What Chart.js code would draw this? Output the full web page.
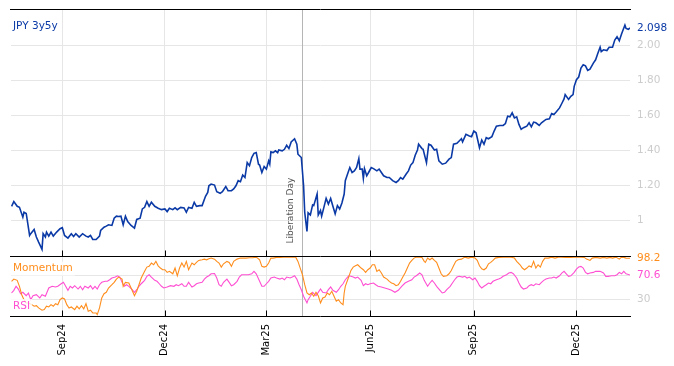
<!DOCTYPE html>
<html>
<head>
<meta charset="utf-8">
<script src="https://cdn.jsdelivr.net/npm/chart.js@4.4.1/dist/chart.umd.min.js"></script>
<style>
  html, body { margin: 0; padding: 0; background: #fff; }
  canvas { display: block; }
</style>
</head>
<body>
<canvas id="chart" width="674" height="366"></canvas>
<script>
// x values are days counted from 1 Sep 2024
const rateDays = [
  -45, -43, -40, -38, -35, -34, -32, -29, -28, -25,
  -23, -21, -18, -17, -15, -14, -12, -10, -8, -5,
  -2, 0, 2, 5, 8, 10, 12, 15, 18, 21,
  23, 25, 27, 30, 33, 34, 37, 39, 41, 44,
  46, 48, 50, 52, 54, 56, 58, 61, 64, 66,
  69, 71, 73, 75, 77, 79, 82, 85, 88, 91,
  93, 95, 98, 100, 102, 105, 108, 110, 112, 115,
  117, 119, 122, 124, 127, 129, 130, 132, 135, 137,
  140, 142, 145, 147, 150, 152, 154, 156, 158, 160,
  162, 164, 166, 168, 170, 172, 174, 175, 177, 179,
  181, 183, 184, 185, 187, 189, 191, 192, 195, 197,
  199, 201, 203, 206, 208, 209, 212, 214, 215, 217,
  218, 220, 222, 223, 226, 227, 229, 230, 232, 234,
  236, 238, 240, 242, 244, 246, 248, 250, 251, 253,
  255, 257, 259, 261, 263, 264, 266, 267, 268, 270,
  272, 274, 276, 279, 281, 283, 285, 288, 290, 293,
  296, 298, 300, 302, 305, 307, 309, 311, 313, 315,
  316, 319, 320, 323, 325, 327, 330, 332, 334, 337,
  340, 343, 345, 347, 350, 352, 354, 355, 358, 361,
  363, 365, 367, 370, 372, 374, 376, 378, 381, 383,
  385, 388, 391, 393, 395, 397, 399, 401, 403, 405,
  407, 409, 412, 414, 416, 418, 420, 423, 425, 427,
  429, 432, 434, 436, 438, 441, 443, 445, 446, 449,
  451, 453, 454, 456, 458, 460, 462, 464, 466, 468,
  471, 473, 475, 477, 478, 480, 483, 485, 488, 490,
  492, 494, 496, 499, 500, 502, 503.5
];
const rateValues = [
  1.081, 1.108, 1.081, 1.075, 1.019, 1.047, 1.040, 0.915, 0.925, 0.949,
  0.906, 0.877, 0.836, 0.925, 0.906, 0.934, 0.911, 0.934, 0.911, 0.934,
  0.953, 0.959, 0.915, 0.900, 0.925, 0.909, 0.925, 0.906, 0.925, 0.911,
  0.906, 0.915, 0.892, 0.892, 0.911, 0.943, 0.962, 0.968, 0.976, 0.972,
  1.013, 1.025, 1.023, 1.025, 0.976, 1.025, 0.994, 0.972, 0.957, 1.006,
  1.013, 1.066, 1.075, 1.108, 1.081, 1.104, 1.081, 1.070, 1.062, 1.066,
  1.051, 1.070, 1.062, 1.072, 1.062, 1.075, 1.072, 1.047, 1.075, 1.070,
  1.104, 1.081, 1.085, 1.085, 1.138, 1.160, 1.198, 1.208, 1.202, 1.164,
  1.155, 1.164, 1.194, 1.170, 1.170, 1.180, 1.198, 1.227, 1.221, 1.259,
  1.245, 1.330, 1.312, 1.359, 1.383, 1.387, 1.321, 1.316, 1.274, 1.308,
  1.293, 1.340, 1.321, 1.391, 1.387, 1.397, 1.387, 1.402, 1.397, 1.406,
  1.429, 1.410, 1.448, 1.466, 1.435, 1.378, 1.359, 1.198, 1.047, 0.938,
  1.044, 1.032, 1.089, 1.085, 1.151, 1.032, 1.057, 1.025, 1.075, 1.126,
  1.094, 1.126, 1.081, 1.038, 1.085, 1.066, 1.100, 1.151, 1.227, 1.265,
  1.302, 1.274, 1.283, 1.302, 1.353, 1.293, 1.293, 1.240, 1.296, 1.255,
  1.278, 1.302, 1.296, 1.283, 1.293, 1.274, 1.255, 1.245, 1.245, 1.227,
  1.217, 1.227, 1.245, 1.236, 1.265, 1.283, 1.316, 1.330, 1.372, 1.402,
  1.435, 1.410, 1.406, 1.330, 1.435, 1.429, 1.402, 1.406, 1.340, 1.321,
  1.327, 1.350, 1.359, 1.435, 1.440, 1.453, 1.466, 1.448, 1.491, 1.482,
  1.478, 1.510, 1.500, 1.415, 1.459, 1.435, 1.472, 1.466, 1.478, 1.510,
  1.538, 1.542, 1.542, 1.553, 1.595, 1.591, 1.614, 1.585, 1.591, 1.548,
  1.520, 1.529, 1.538, 1.557, 1.534, 1.561, 1.557, 1.542, 1.557, 1.567,
  1.576, 1.580, 1.610, 1.604, 1.618, 1.642, 1.667, 1.693, 1.718, 1.690,
  1.708, 1.718, 1.765, 1.803, 1.818, 1.869, 1.888, 1.882, 1.856, 1.863,
  1.897, 1.916, 1.954, 1.988, 1.963, 1.973, 1.969, 1.988, 1.988, 2.029,
  2.048, 2.025, 2.063, 2.114, 2.095, 2.090, 2.098
];

const momDays = [
  -45, -43, -40, -38, -36, -34, -32, -30, -27, -25,
  -23, -21, -18, -16, -14, -12, -10, -8, -6, -4,
  -2, 0, 2, 4, 6, 8, 11, 13, 15, 17,
  19, 21, 23, 25, 27, 30, 31, 33, 35, 37,
  39, 41, 44, 46, 48, 50, 53, 54, 56, 59,
  61, 64, 66, 68, 70, 73, 75, 77, 79, 81,
  83, 85, 87, 89, 91, 93, 95, 98, 100, 102,
  104, 106, 108, 110, 112, 115, 117, 119, 121, 124,
  126, 128, 130, 132, 135, 137, 139, 141, 143, 146,
  148, 150, 152, 155, 158, 160, 163, 166, 169, 172,
  175, 177, 179, 181, 183, 185, 187, 190, 193, 196,
  199, 202, 205, 207, 209, 211, 213, 215, 217, 219,
  221, 223, 225, 227, 229, 231, 233, 235, 237, 239,
  241, 243, 245, 247, 249, 250, 251, 254, 256, 258,
  260, 262, 265, 267, 269, 271, 273, 275, 277, 279,
  281, 283, 285, 288, 290, 292, 294, 296, 298, 300,
  302, 304, 306, 308, 310, 312, 314, 317, 319, 321,
  322, 324, 326, 328, 330, 332, 334, 336, 338, 341,
  343, 345, 347, 349, 351, 354, 357, 360, 363, 366,
  368, 370, 372, 374, 376, 378, 380, 382, 384, 387,
  391, 394, 398, 401, 403, 406, 408, 410, 412, 414,
  416, 418, 420, 422, 424, 426, 428, 431, 434, 437,
  440, 443, 446, 449, 451, 454, 457, 460, 463, 465,
  468, 470, 473, 477, 480, 483, 486, 488, 491, 494,
  496, 498, 500, 503.5
];
const momValues = [
  60.2, 63.9, 61.8, 52, 38.2, 30, 24.6, 24.6, 21.8, 19.2,
  20.2, 16.4, 12.6, 13.6, 19.2, 18, 21.8, 19.2, 23.4, 21.8,
  30, 32.8, 31.1, 21.8, 16.4, 18, 13.6, 19.2, 14.8, 20.2,
  14.8, 23.4, 11, 12.6, 8.2, 8.2, 5.4, 16.4, 32.8, 39.8,
  42.1, 49.2, 54.6, 58.5, 63.9, 67.2, 63.9, 52, 58.5, 57.4,
  49.2, 36.6, 43.8, 54.6, 65.6, 76.6, 83.6, 84.8, 90.2, 87.4,
  93, 85.7, 82, 79.2, 79.2, 74.9, 76.6, 72.6, 82, 69.3,
  82, 90.2, 83.6, 93, 79.2, 90.2, 87.4, 91.3, 94.6, 95.6,
  96.7, 95.6, 97.2, 98.4, 96.7, 93, 90.2, 83.6, 89, 93,
  91.3, 84.8, 93, 96.7, 98.4, 98.4, 98.4, 98.9, 98.9, 100,
  95.6, 84.8, 83.6, 84.8, 90.2, 98.4, 98.4, 99.5, 99.6, 100,
  100, 99.7, 100, 100, 93, 82, 71, 54.6, 41, 38.2,
  41, 35.6, 42.1, 36.6, 24.6, 32.8, 34.4, 41, 38.2, 43.8,
  35.6, 27.4, 30, 24.6, 21.8, 41, 52, 67.2, 78.1, 83.6,
  85.7, 87.4, 82, 79.2, 74.9, 79.2, 82, 87.4, 87.4, 76.6,
  79.2, 73.8, 67.2, 63.9, 60.2, 57.4, 56.2, 53, 54.6, 60.2,
  67.2, 73.8, 82, 90.2, 94.6, 98.4, 100, 100, 99.5, 93,
  91.3, 98.4, 95.6, 98.4, 94.6, 91.3, 82, 72.6, 68.4, 69.3,
  72.6, 78.1, 85.7, 93, 95.6, 96.7, 100, 98.4, 100, 98.4,
  94.6, 85.7, 80.8, 79.2, 82, 89, 91.3, 94.6, 98.4, 99.6,
  100, 100, 100, 98.4, 93, 87.4, 82, 79.2, 82, 85.7,
  83.6, 93, 82, 87.4, 83.6, 93, 98.4, 98.4, 100, 98.4,
  100, 100, 99.6, 100, 99.5, 100, 100, 100, 99.5, 96.7,
  94.6, 98.4, 99.6, 98.4, 99.6, 98.4, 99.6, 98.4, 100, 96.7,
  100, 99.6, 98.4, 98.2
];

const rsiDays = [
  -45, -43, -41, -39, -37, -35, -32, -30, -28, -26,
  -23, -20, -18, -15, -12, -9, -6, -4, -1, 1,
  3, 5, 7, 9, 11, 14, 16, 18, 20, 23,
  25, 27, 29, 31, 33, 35, 38, 40, 42, 44,
  47, 49, 51, 53, 55, 57, 59, 62, 64, 66,
  68, 70, 73, 75, 77, 79, 82, 84, 86, 88,
  90, 93, 96, 99, 101, 103, 106, 108, 110, 112,
  115, 117, 119, 121, 124, 126, 128, 130, 132, 135,
  137, 139, 141, 143, 146, 148, 150, 152, 155, 157,
  159, 162, 165, 168, 170, 172, 175, 177, 179, 181,
  183, 185, 188, 190, 193, 195, 197, 199, 202, 204,
  206, 208, 210, 212, 214, 217, 218, 220, 222, 225,
  227, 229, 231, 234, 236, 238, 240, 243, 245, 247,
  249, 251, 254, 256, 258, 260, 262, 265, 267, 269,
  271, 273, 276, 278, 280, 283, 286, 289, 292, 295,
  298, 301, 304, 307, 310, 312, 314, 317, 319, 321,
  322, 324, 326, 328, 330, 332, 335, 337, 339, 341,
  344, 346, 348, 350, 352, 355, 357, 359, 361, 364,
  366, 368, 370, 372, 374, 376, 378, 380, 382, 385,
  387, 389, 391, 394, 396, 398, 400, 403, 405, 407,
  409, 412, 414, 416, 418, 420, 423, 425, 427, 429,
  432, 434, 436, 438, 441, 443, 445, 447, 449, 451,
  454, 456, 458, 460, 462, 464, 466, 468, 471, 473,
  475, 477, 480, 482, 484, 487, 490, 492, 494, 496,
  498, 500, 503.5
];
const rsiValues = [
  41, 45.4, 52, 47.5, 39.8, 42.1, 36.6, 41, 30, 36.6,
  38.2, 32.8, 38.2, 35.6, 49.2, 52, 50.8, 52, 56.2, 58.5,
  52, 45.4, 52, 49.2, 53, 47.5, 52, 46.4, 52, 49.2,
  53, 47.5, 52, 47.5, 54.6, 58.5, 60.2, 60.2, 62.8, 65.6,
  67.2, 69.3, 67.2, 58.5, 52, 54.6, 52, 46.4, 42.1, 46.4,
  52, 56.2, 61.8, 68.4, 71, 67.2, 61.8, 60.2, 56.2, 52,
  49.2, 50.8, 53, 52, 54.6, 53, 56.2, 52, 52, 58.5,
  50.8, 53, 56.2, 57.4, 58.5, 63.9, 67.2, 69.3, 72.6, 73,
  65.6, 54.6, 52, 58.5, 63.9, 58.5, 53, 54.6, 60.2, 67.2,
  71, 71, 71, 72.6, 76.6, 72.6, 60.2, 52, 52, 56.2,
  60.2, 65.6, 67.2, 65.6, 63.9, 65.6, 62.8, 67.2, 65.6, 67.2,
  69.3, 63.9, 54.6, 46.4, 35.6, 24.6, 30, 35.6, 42.1, 36.6,
  42.1, 47.5, 42.1, 41, 46.4, 50.8, 45.4, 42.1, 46.4, 52,
  56.2, 62.8, 69.3, 68.4, 67.2, 65.6, 67.2, 61.8, 53, 56.2,
  54.6, 56.2, 57.4, 54.6, 52, 50.8, 49.2, 47.5, 45.4, 42.1,
  45.4, 52, 57.4, 60.2, 62.8, 67.2, 69.3, 73.8, 71, 61.8,
  58.5, 52, 57.4, 61.8, 57.4, 52, 45.4, 41, 42.1, 46.4,
  52, 57.4, 62.8, 67.2, 68.4, 67.2, 68.4, 65.6, 67.2, 62.8,
  65.6, 60.2, 53, 49.2, 52, 54.6, 57.4, 56.2, 60.2, 62.8,
  63.9, 65.6, 68.4, 71, 73.8, 74.9, 72.6, 65.6, 57.4, 50.8,
  47.5, 49.2, 53, 54.6, 53, 56.2, 54.6, 58.5, 61.8, 63.9,
  65.6, 65.6, 67.2, 65.6, 69.3, 73.8, 76.6, 72.6, 68.4, 69.3,
  74.9, 80.3, 83.6, 84.8, 82, 74.9, 72.6, 73.8, 74.9, 76.6,
  76.6, 76.6, 73.8, 68.4, 68.4, 69.3, 69.3, 71, 74.9, 72.6,
  76.6, 72.6, 70.6
];

const monthTicks = [0, 91, 181, 273, 365, 456];
const monthLabels = ['Sep24', 'Dec24', 'Mar25', 'Jun25', 'Sep25', 'Dec25'];
const rateTicks = [1, 1.2, 1.4, 1.6, 1.8, 2.0];
const oscTicks = [30, 70];
const liberationDay = 213; // 2 Apr 2025

const BLUE = '#0b3aa6';
const ORANGE = '#ff8d1c';
const PINK = '#ff4fd2';
const FONT = '"DejaVu Sans", sans-serif';

function pairs(xs, ys) {
  return xs.map((x, i) => ({ x: x, y: ys[i] }));
}

// fixed box sizes so the plot area lands where the reference has it
function fixBox(size) {
  return s => {
    if (s.isHorizontal()) s.height = size; else s.width = size;
    s.paddingTop = 0;
    s.paddingBottom = 0;
    s.paddingLeft = 0;
    s.paddingRight = 0;
  };
}

// black panel borders, tick marks, labels and last values
const overlay = {
  id: 'overlay',
  beforeDatasetsDraw(chart) {
    const { ctx, chartArea: a, scales } = chart;
    const lx = Math.round(scales.x.getPixelForValue(liberationDay)) + 0.5;
    ctx.save();
    ctx.strokeStyle = '#b5b5b5';
    ctx.lineWidth = 1;
    ctx.beginPath();
    ctx.moveTo(lx, a.top);
    ctx.lineTo(lx, a.bottom);
    ctx.stroke();
    ctx.translate(lx - 12, scales.y.bottom - 12);
    ctx.rotate(-Math.PI / 2);
    ctx.fillStyle = '#555';
    ctx.font = '9px ' + FONT;
    ctx.textAlign = 'left';
    ctx.textBaseline = 'middle';
    ctx.fillText('Liberation Day', 0, 0);
    ctx.restore();
  },
  afterDatasetsDraw(chart) {
    const { ctx, chartArea: a, scales } = chart;
    const sep = Math.round(scales.y.bottom) + 0.5;
    const top = Math.round(a.top) - 0.5;
    const bot = Math.round(a.bottom) - 0.5;
    ctx.save();
    ctx.strokeStyle = '#000';
    ctx.lineWidth = 1;
    ctx.beginPath();
    [top, sep, bot].forEach(y => {
      ctx.moveTo(a.left - 1, y);
      ctx.lineTo(a.right + 1, y);
    });
    monthTicks.forEach(d => {
      const x = Math.round(scales.x.getPixelForValue(d)) + 0.5;
      ctx.moveTo(x, sep);
      ctx.lineTo(x, sep - 6);
      ctx.moveTo(x, bot);
      ctx.lineTo(x, bot - 6);
    });
    ctx.stroke();

    ctx.font = '10.5px ' + FONT;
    ctx.textBaseline = 'middle';
    ctx.textAlign = 'left';
    ctx.fillStyle = BLUE;
    ctx.fillText('JPY 3y5y', 13, a.top + 16);

    const boxed = (text, color, y) => {
      const w = ctx.measureText(text).width;
      ctx.fillStyle = 'rgba(255,255,255,0.8)';
      ctx.fillRect(11, y - 7, w + 4, 14);
      ctx.fillStyle = color;
      ctx.fillText(text, 13, y);
    };
    boxed('Momentum', ORANGE, scales.y2.top + 13);
    boxed('RSI', PINK, scales.y2.bottom - 11);

    const lastX = a.right + 7;
    ctx.fillStyle = BLUE;
    ctx.fillText(rateValues[rateValues.length - 1].toFixed(3), lastX,
      scales.y.getPixelForValue(rateValues[rateValues.length - 1]));
    ctx.fillStyle = ORANGE;
    ctx.fillText(momValues[momValues.length - 1].toFixed(1), lastX,
      scales.y2.getPixelForValue(momValues[momValues.length - 1]));
    ctx.fillStyle = PINK;
    ctx.fillText(rsiValues[rsiValues.length - 1].toFixed(1), lastX,
      scales.y2.getPixelForValue(rsiValues[rsiValues.length - 1]));
    ctx.restore();
  }
};

new Chart(document.getElementById('chart'), {
  type: 'line',
  data: {
    datasets: [
      { label: 'JPY 3y5y', data: pairs(rateDays, rateValues), yAxisID: 'y',
        borderColor: BLUE, borderWidth: 1.6 },
      { label: 'Momentum', data: pairs(momDays, momValues), yAxisID: 'y2',
        borderColor: ORANGE, borderWidth: 1.1 },
      { label: 'RSI', data: pairs(rsiDays, rsiValues), yAxisID: 'y2',
        borderColor: PINK, borderWidth: 1.1 }
    ]
  },
  options: {
    responsive: false,
    animation: false,
    devicePixelRatio: 1,
    layout: { padding: { left: 11, top: 10, right: 0, bottom: 0 } },
    elements: { point: { radius: 0 }, line: { tension: 0 } },
    plugins: { legend: { display: false }, tooltip: { enabled: false } },
    scales: {
      x: {
        type: 'linear',
        min: -45.5,
        max: 503.5,
        afterBuildTicks: s => { s.ticks = monthTicks.map(v => ({ value: v })); },
        afterFit: fixBox(49),
        grid: { color: '#e6e6e6', drawTicks: false },
        border: { display: false },
        ticks: {
          autoSkip: false,
          minRotation: 90,
          maxRotation: 90,
          padding: 7,
          color: '#000',
          font: { family: FONT, size: 10 },
          callback: v => monthLabels[monthTicks.indexOf(v)] || ''
        }
      },
      y: {
        position: 'right',
        stack: 'panels',
        stackWeight: 4,
        min: 0.8,
        max: 2.2,
        afterBuildTicks: s => { s.ticks = rateTicks.map(v => ({ value: v })); },
        afterFit: fixBox(44),
        grid: { color: '#e6e6e6', drawTicks: false },
        border: { display: false },
        ticks: {
          padding: 7,
          color: '#cccccc',
          font: { family: FONT, size: 10.5 },
          callback: v => v === 1 ? '1' : v.toFixed(2)
        }
      },
      y2: {
        position: 'right',
        stack: 'panels',
        stackWeight: 1,
        min: 1.5,
        max: 102.5,
        afterBuildTicks: s => { s.ticks = oscTicks.map(v => ({ value: v })); },
        afterFit: fixBox(44),
        grid: { color: '#e6e6e6', drawTicks: false },
        border: { display: false },
        ticks: {
          padding: 7,
          color: '#cccccc',
          font: { family: FONT, size: 10.5 },
          callback: v => v === 30 ? '30' : ''
        }
      }
    }
  },
  plugins: [overlay]
});
</script>
</body>
</html>
